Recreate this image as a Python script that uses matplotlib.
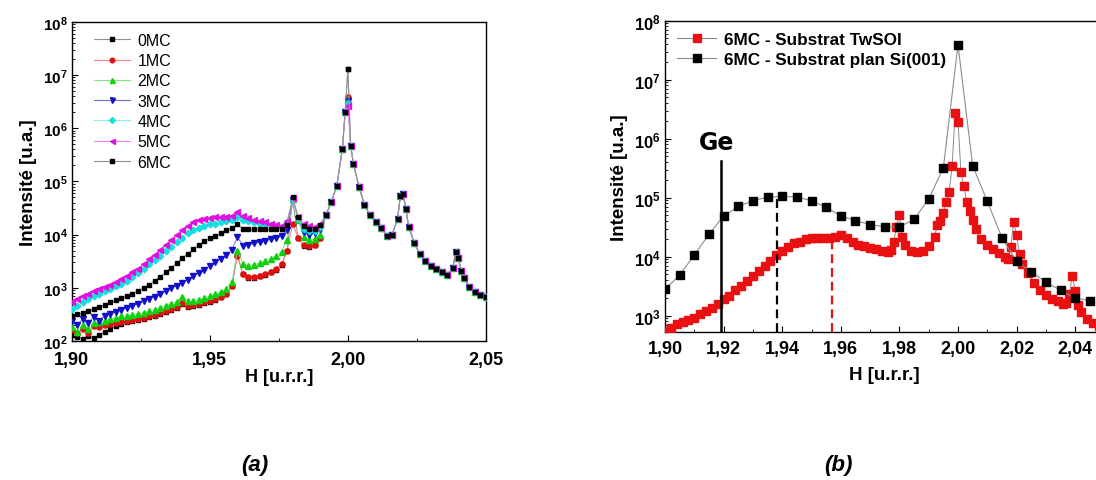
import numpy as np
import matplotlib
matplotlib.use("Agg")
import matplotlib.pyplot as plt
from matplotlib.ticker import FuncFormatter, MultipleLocator, LogLocator, NullFormatter
from matplotlib.lines import Line2D

plt.rcParams['font.family'] = ['Liberation Sans', 'DejaVu Sans']
plt.rcParams['font.weight'] = 'bold'
plt.rcParams['axes.labelweight'] = 'bold'
plt.rcParams['mathtext.fontset'] = 'custom'
plt.rcParams['mathtext.rm'] = 'Liberation Sans'
plt.rcParams['mathtext.bf'] = 'Liberation Sans:bold'

# ---------------- panel (a) data ----------------
labels_a = ['0MC', '1MC', '2MC', '3MC', '4MC', '5MC', '6MC']
H_front = np.round(np.arange(1.900, 1.9901, 0.002), 3)   # 1.900 ... 1.990

mc0 = [1.3e2, 1.2e2, 1.1e2, 1.25e2, 1.15e2, 1.3e2, 1.5e2, 1.7e2, 1.9e2, 2.1e2,
       2.3e2, 2.4e2, 2.5e2, 2.6e2, 2.8e2, 3.0e2, 3.2e2, 3.5e2, 3.8e2, 4.2e2,
       5.0e2, 4.4e2, 4.5e2, 4.8e2, 5.1e2, 5.5e2, 6.0e2, 6.6e2, 7.6e2, 1.1e3,
       4.2e3, 1.8e3, 1.55e3, 1.55e3, 1.65e3, 1.75e3, 1.95e3, 2.2e3, 2.7e3, 5.0e3,
       4.5e4, 8.5e3, 6.2e3, 5.9e3, 6.4e3, 8.5e3]
mc1 = [1.6e2, 1.4e2, 1.7e2, 1.4e2, 1.9e2, 1.8e2, 2.0e2, 2.1e2, 2.2e2, 2.3e2,
       2.4e2, 2.5e2, 2.6e2, 2.7e2, 2.9e2, 3.1e2, 3.4e2, 3.7e2, 4.0e2, 4.4e2,
       5.2e2, 4.5e2, 4.7e2, 5.0e2, 5.3e2, 5.7e2, 6.2e2, 6.8e2, 7.8e2, 1.1e3,
       4.0e3, 1.8e3, 1.6e3, 1.6e3, 1.7e3, 1.8e3, 2.0e3, 2.3e3, 2.8e3, 5.0e3,
       1.6e4, 8.5e3, 6.3e3, 6.0e3, 6.5e3, 8.5e3]
mc2 = [1.8e2, 1.5e2, 2.0e2, 1.7e2, 2.2e2, 2.3e2, 2.4e2, 2.6e2, 2.7e2, 2.9e2,
       3.0e2, 3.1e2, 3.2e2, 3.4e2, 3.6e2, 3.8e2, 4.2e2, 4.6e2, 5.0e2, 5.5e2,
       6.6e2, 5.6e2, 5.6e2, 6.0e2, 6.4e2, 7.0e2, 7.6e2, 8.3e2, 9.5e2, 1.3e3,
       5.0e3, 2.8e3, 2.6e3, 2.7e3, 2.9e3, 3.2e3, 3.5e3, 4.0e3, 4.8e3, 8.0e3,
       4.6e4, 1.9e4, 9.0e3, 8.0e3, 8.3e3, 1.0e4]
mc3 = [2.4e2, 2.0e2, 2.6e2, 2.2e2, 2.8e2, 2.4e2, 3.0e2, 3.2e2, 3.5e2, 3.8e2,
       4.2e2, 4.6e2, 5.0e2, 5.6e2, 6.2e2, 6.8e2, 7.6e2, 8.6e2, 9.8e2, 1.1e3,
       1.25e3, 1.4e3, 1.65e3, 1.9e3, 2.2e3, 2.6e3, 3.0e3, 3.5e3, 4.1e3, 5.2e3,
       9.0e3, 6.2e3, 6.4e3, 6.8e3, 7.2e3, 7.6e3, 8.1e3, 8.7e3, 9.5e3, 1.2e4,
       4.5e4, 2.0e4, 1.1e4, 1.0e4, 1.05e4, 1.25e4]
mc4 = [4.0e2, 4.6e2, 5.3e2, 6.2e2, 7.0e2, 7.8e2, 8.7e2, 9.6e2, 1.07e3, 1.2e3,
       1.35e3, 1.6e3, 1.9e3, 2.3e3, 2.8e3, 3.3e3, 4.0e3, 4.9e3, 5.9e3, 7.2e3,
       8.7e3, 1.05e4, 1.2e4, 1.35e4, 1.45e4, 1.55e4, 1.6e4, 1.7e4, 1.8e4, 1.9e4,
       2.1e4, 1.9e4, 1.8e4, 1.7e4, 1.6e4, 1.55e4, 1.5e4, 1.45e4, 1.4e4, 1.7e4,
       4.5e4, 2.0e4, 1.3e4, 1.15e4, 1.15e4, 1.4e4]
mc5 = [5.5e2, 6.2e2, 7.0e2, 7.8e2, 8.6e2, 9.5e2, 1.05e3, 1.15e3, 1.3e3, 1.45e3,
       1.65e3, 1.95e3, 2.3e3, 2.8e3, 3.4e3, 4.2e3, 5.2e3, 6.5e3, 8.0e3, 1.0e4,
       1.2e4, 1.45e4, 1.7e4, 1.85e4, 1.95e4, 2.05e4, 2.1e4, 2.1e4, 2.15e4, 2.2e4,
       2.6e4, 2.2e4, 2.05e4, 1.9e4, 1.8e4, 1.7e4, 1.6e4, 1.5e4, 1.45e4, 1.8e4,
       4.8e4, 2.1e4, 1.6e4, 1.45e4, 1.4e4, 1.6e4]
mc6 = [3.0e2, 3.2e2, 3.3e2, 3.6e2, 4.0e2, 4.4e2, 4.8e2, 5.3e2, 5.8e2, 6.4e2,
       7.0e2, 7.8e2, 8.8e2, 1.0e3, 1.15e3, 1.35e3, 1.6e3, 1.95e3, 2.4e3, 2.9e3,
       3.6e3, 4.4e3, 5.3e3, 6.3e3, 7.5e3, 8.5e3, 9.5e3, 1.05e4, 1.2e4, 1.35e4,
       1.55e4, 1.3e4, 1.25e4, 1.25e4, 1.25e4, 1.25e4, 1.25e4, 1.25e4, 1.3e4, 1.5e4,
       5.0e4, 2.1e4, 1.45e4, 1.3e4, 1.3e4, 1.5e4]
fronts_a = [mc0, mc1, mc2, mc3, mc4, mc5, mc6]

# common tail (all coverages superimpose above H = 1.99)
H_tail = [1.992, 1.994, 1.996, 1.998, 1.999, 2.000, 2.001, 2.002, 2.004, 2.006,
          2.008, 2.010, 2.012, 2.014, 2.016, 2.018, 2.019, 2.020, 2.021, 2.022,
          2.024, 2.026, 2.028, 2.030, 2.032, 2.034, 2.036, 2.038, 2.039, 2.040,
          2.041, 2.042, 2.044, 2.046, 2.048, 2.050]
I_tail = [2.3e4, 4.1e4, 8.3e4, 4.1e5, 2.0e6, 3.8e6, 4.7e5, 2.1e5, 8.0e4, 3.6e4,
          2.3e4, 1.7e4, 1.35e4, 9.5e3, 1.0e4, 2.0e4, 5.4e4, 5.8e4, 3.0e4, 1.4e4,
          7.0e3, 4.3e3, 3.2e3, 2.6e3, 2.25e3, 1.95e3, 1.75e3, 2.4e3, 4.7e3, 3.6e3,
          2.1e3, 1.5e3, 1.05e3, 8.5e2, 7.4e2, 6.7e2]
peak_2000 = [1.3e7, 3.8e6, 3.6e6, 3.3e6, 3.0e6, 2.6e6, 1.3e7]

colors_a = ['#000000', '#e01010', '#10d010', '#1010c8', '#10e0e0', '#e010e0', '#000000']
linecol_a = ['#909090', '#f08080', '#80e880', '#7070d8', '#80f0f0', '#f080f0', '#909090']
markers_a = ['s', 'o', '^', 'v', 'D', '<', 's']
msize_a = [3.4, 3.7, 4.0, 4.0, 3.3, 4.0, 3.4]

# ---------------- panel (b) data ----------------
labels_b = ['6MC - Substrat TwSOI', '6MC - Substrat plan Si(001)']
H_si = [1.900, 1.905, 1.910, 1.915, 1.920, 1.925, 1.930, 1.935, 1.940, 1.945,
        1.950, 1.955, 1.960, 1.965, 1.970, 1.975, 1.980, 1.985, 1.990, 1.995,
        2.000, 2.005, 2.010, 2.015, 2.020, 2.025, 2.030, 2.035, 2.040, 2.045]
I_si = [2.8e3, 4.9e3, 1.07e4, 2.4e4, 4.9e4, 7.1e4, 8.9e4, 1.02e5, 1.05e5, 1.03e5,
        8.9e4, 6.9e4, 4.9e4, 4.1e4, 3.5e4, 3.2e4, 3.2e4, 4.3e4, 9.5e4, 3.2e5,
        3.9e7, 3.5e5, 8.7e4, 2.1e4, 8.3e3, 5.6e3, 3.7e3, 2.7e3, 2.0e3, 1.8e3]
H_tw = [1.900, 1.902, 1.904, 1.906, 1.908, 1.910, 1.912, 1.914, 1.916, 1.918,
        1.920, 1.922, 1.924, 1.926, 1.928, 1.930, 1.932, 1.934, 1.936, 1.938,
        1.940, 1.942, 1.944, 1.946, 1.948, 1.950, 1.952, 1.954, 1.956, 1.958,
        1.960, 1.962, 1.964, 1.966, 1.968, 1.970, 1.972, 1.974, 1.976, 1.977,
        1.978, 1.979, 1.980, 1.981, 1.982, 1.984, 1.986, 1.988, 1.990, 1.992,
        1.993, 1.994, 1.995, 1.996, 1.997, 1.998, 1.999, 2.000, 2.001, 2.002,
        2.003, 2.004, 2.005, 2.006, 2.008, 2.010, 2.012, 2.014, 2.016, 2.017,
        2.018, 2.019, 2.020, 2.021, 2.022, 2.024, 2.026, 2.028, 2.030, 2.032,
        2.034, 2.036, 2.037, 2.038, 2.039, 2.040, 2.041, 2.042, 2.044, 2.046,
        2.048]
I_tw = [5.6e2, 6.3e2, 7.2e2, 7.9e2, 8.5e2, 9.3e2, 1.07e3, 1.18e3, 1.33e3, 1.58e3,
        1.9e3, 2.2e3, 2.7e3, 3.2e3, 3.9e3, 4.8e3, 5.8e3, 7.1e3, 8.4e3, 1.05e4,
        1.26e4, 1.47e4, 1.7e4, 1.8e4, 2.0e4, 2.1e4, 2.1e4, 2.1e4, 2.1e4, 2.2e4,
        2.3e4, 2.05e4, 1.8e4, 1.6e4, 1.5e4, 1.4e4, 1.33e4, 1.25e4, 1.22e4, 1.3e4,
        1.75e4, 3.2e4, 5.0e4, 2.2e4, 1.6e4, 1.26e4, 1.2e4, 1.26e4, 1.5e4, 2.2e4,
        3.5e4, 4.1e4, 5.6e4, 8.3e4, 1.25e5, 3.5e5, 2.7e6, 1.95e6, 2.7e5, 1.55e5,
        8.5e4, 6.0e4, 4.2e4, 2.9e4, 2.0e4, 1.6e4, 1.37e4, 1.16e4, 1.0e4, 9.3e3,
        1.45e4, 3.9e4, 2.3e4, 1.1e4, 7.6e3, 5.2e3, 3.6e3, 2.7e3, 2.25e3, 1.95e3,
        1.75e3, 1.6e3, 1.65e3, 2.3e3, 4.8e3, 2.6e3, 1.5e3, 1.15e3, 8.7e2, 7.5e2,
        6.6e2]

ge_H, ge_top = 1.919, 4.2e5
peak_si_H, peak_si_top = 1.9383, 9.5e4
peak_tw_H, peak_tw_top = 1.9569, 1.86e4

# ---------------- figure ----------------
W, Hpx = 1096, 481
fig = plt.figure(figsize=(W / 100, Hpx / 100), dpi=100)

def ax_rect(x0, x1, ytop, ybot):
    return [x0 / W, 1 - ybot / Hpx, (x1 - x0) / W, (ybot - ytop) / Hpx]

def dec_fmt(v, p):
    e = int(round(np.log10(v)))
    return r'$\mathbf{10^{%d}}$' % e

def comma_fmt(v, p):
    return ('%.2f' % v).replace('.', ',')

# ---- panel (a)
ax1 = fig.add_axes(ax_rect(71.7, 486, 22.7, 342))
for i in range(7):
    tail = list(I_tail)
    tail[H_tail.index(2.000)] = peak_2000[i]
    x = list(H_front) + H_tail
    y = list(fronts_a[i]) + tail
    ax1.plot(x, y, '-', color=linecol_a[i], lw=0.7, zorder=2 + i)
    ax1.plot(x, y, linestyle='none', marker=markers_a[i], ms=msize_a[i],
             color=colors_a[i], mec=colors_a[i], zorder=2 + i)
ax1.set_yscale('log')
ax1.set_xlim(1.90, 2.05)
ax1.set_ylim(1e2, 1e8)
ax1.xaxis.set_major_locator(MultipleLocator(0.05))
ax1.xaxis.set_minor_locator(MultipleLocator(0.025))
ax1.xaxis.set_major_formatter(FuncFormatter(comma_fmt))
ax1.yaxis.set_major_locator(LogLocator(base=10, numticks=10))
ax1.yaxis.set_minor_locator(LogLocator(base=10, subs=np.arange(2, 10), numticks=20))
ax1.yaxis.set_major_formatter(FuncFormatter(dec_fmt))
ax1.yaxis.set_minor_formatter(NullFormatter())
ax1.tick_params(axis='x', which='both', direction='in', labelsize=13, pad=7)
ax1.tick_params(axis='y', which='both', direction='in', labelsize=11, pad=3)
ax1.tick_params(which='major', length=4, width=0.8)
ax1.tick_params(which='minor', length=2.5, width=0.6)
ax1.set_xlabel('H [u.r.r.]', fontsize=13, labelpad=0)
ax1.set_ylabel('Intensité [u.a.]', fontsize=13.5, labelpad=4)
for s in ax1.spines.values():
    s.set_linewidth(1.0)

handles_a = [Line2D([], [], color=linecol_a[i], lw=0.8, marker=markers_a[i],
                    ms=msize_a[i] * 0.9, mfc=colors_a[i], mec=colors_a[i]) for i in range(7)]
leg1 = ax1.legend(handles_a, labels_a, loc='upper left', bbox_to_anchor=(0.045, 0.975),
                  frameon=False, handlelength=2.3, handletextpad=0.45,
                  labelspacing=0.33, borderaxespad=0.0, borderpad=0.2,
                  prop={'size': 11.5, 'weight': 'normal'})

# ---- panel (b)
ax2 = fig.add_axes(ax_rect(665, 1104.5, 21.7, 333))
ax2.plot(H_tw, I_tw, '-', color='#8c8c8c', lw=0.7, zorder=2)
ax2.plot(H_tw, I_tw, linestyle='none', marker='s', ms=5.2, color='#e81010',
         mec='#e81010', zorder=3)
ax2.plot(H_si, I_si, '-', color='#8c8c8c', lw=0.8, zorder=4)
ax2.plot(H_si, I_si, linestyle='none', marker='s', ms=5.2, color='#000000', zorder=5)
ax2.set_yscale('log')
ax2.set_xlim(1.90, 2.05)
ax2.set_ylim(5.3e2, 1e8)
ybot = ax2.get_ylim()[0]
ax2.plot([ge_H, ge_H], [ybot, ge_top], color='black', lw=1.8, zorder=6)
ax2.plot([peak_si_H, peak_si_H], [ybot, peak_si_top], color='black', lw=1.6,
         ls=(0, (4, 2.2)), zorder=6)
ax2.plot([peak_tw_H, peak_tw_H], [ybot, peak_tw_top], color='#e81010', lw=1.6,
         ls=(0, (4, 2.2)), zorder=6)
ax2.text(1.9177, 6.7e5, 'Ge', ha='center', va='baseline', fontsize=17,
         fontweight='bold', family='DejaVu Sans')
ax2.xaxis.set_major_locator(MultipleLocator(0.02))
ax2.xaxis.set_minor_locator(MultipleLocator(0.01))
ax2.xaxis.set_major_formatter(FuncFormatter(comma_fmt))
ax2.yaxis.set_major_locator(LogLocator(base=10, numticks=10))
ax2.yaxis.set_minor_locator(LogLocator(base=10, subs=np.arange(2, 10), numticks=20))
ax2.yaxis.set_major_formatter(FuncFormatter(dec_fmt))
ax2.yaxis.set_minor_formatter(NullFormatter())
ax2.tick_params(axis='x', which='both', direction='in', labelsize=13, pad=6)
ax2.tick_params(axis='y', which='both', direction='in', labelsize=12, pad=3)
ax2.tick_params(which='major', length=4, width=0.8)
ax2.tick_params(which='minor', length=2.5, width=0.6)
ax2.set_xlabel('H [u.r.r.]', fontsize=13.5, labelpad=6)
ax2.set_ylabel('Intensité [u.a.]', fontsize=13.5, labelpad=4)
for s in ax2.spines.values():
    s.set_linewidth(1.0)

handles_b = [Line2D([], [], color='#8c8c8c', lw=0.8, marker='s', ms=5.2,
                    mfc='#e81010', mec='#e81010'),
             Line2D([], [], color='#8c8c8c', lw=0.8, marker='s', ms=5.2,
                    mfc='#000000', mec='#000000')]
ax2.legend(handles_b, labels_b, loc='upper left', bbox_to_anchor=(0.02, 0.975),
           frameon=False, handlelength=2.3, handletextpad=0.45, labelspacing=0.3,
           borderaxespad=0.0, borderpad=0.2, prop={'size': 12.3, 'weight': 'bold'})

# captions
fig.text(255 / W, 1 - 466 / Hpx, '(a)', ha='center', va='center', fontsize=16,
         fontweight='bold', fontstyle='italic')
fig.text(838 / W, 1 - 466 / Hpx, '(b)', ha='center', va='center', fontsize=16,
         fontweight='bold', fontstyle='italic')

fig.savefig('out.png', dpi=100)
